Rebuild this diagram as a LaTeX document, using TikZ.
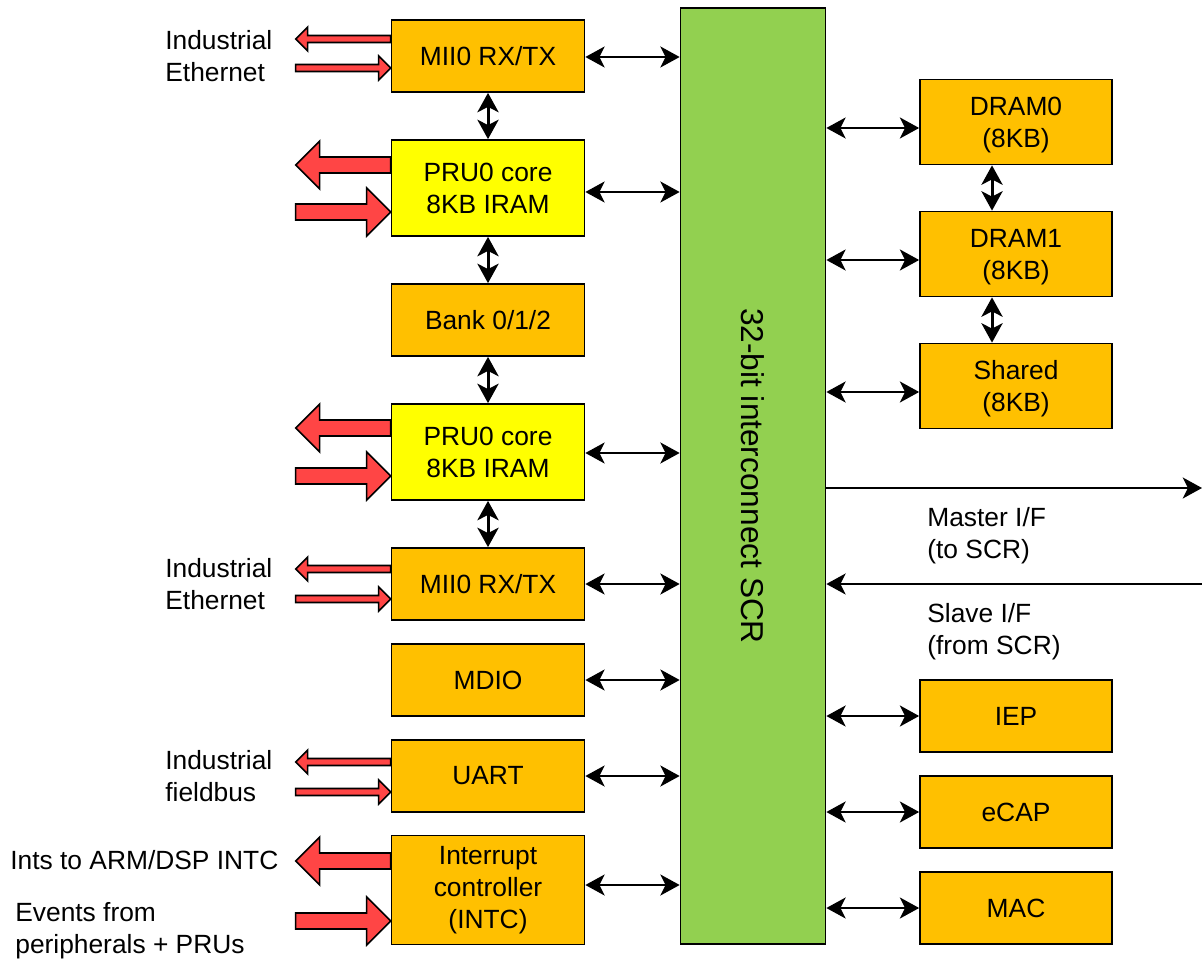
\documentclass[tikz,border=0pt]{standalone}
\usepackage{fontspec}
\setmainfont{Liberation Sans}
\usetikzlibrary{calc, arrows.meta}
\definecolor{blkorange}{HTML}{FFC000}
\definecolor{coreyellow}{HTML}{FFFF00}
\definecolor{busgreen}{HTML}{92D050}
\definecolor{arrred}{HTML}{FF4545}
\newcommand{\redout}[4]{\draw[redarr] ($(#1.west)+(0,#2)$) -- ++(0,-#3) -- ++(-95+#4,0) -- ++(0,-#4+#3) -- ++(-#4,#4) -- ++(#4,#4) -- ++(0,-#4+#3) -- ++(95-#4,0) -- cycle;}
\newcommand{\redin}[4]{\draw[redarr] ($(#1.west)+(0,#2)$) -- ++(-#4,-#4) -- ++(0,#4-#3) -- ++(-95+#4,0) -- ++(0,2*#3) -- ++(95-#4,0) -- ++(0,#4-#3) -- cycle;}
\begin{document}
\begin{tikzpicture}[x=0.02cm, y=-0.02cm, font=\fontsize{15}{18.2}\selectfont,
  blk/.style={draw, line width=1pt, fill=blkorange, align=center,
    minimum width=3.86cm, minimum height=1.44cm, inner sep=0pt},
  core/.style={blk, fill=coreyellow, minimum height=1.92cm},
  mem/.style={blk, minimum width=3.84cm, minimum height=1.7cm},
  link/.style={<->, line width=1.1pt},
  vlink/.style={<->, line width=1.7pt},
  redarr/.style={draw, fill=arrred, line width=0.9pt, line join=miter},
  lbl/.style={anchor=west, align=left, inner sep=0pt},
  >={Stealth[length=11pt,width=12pt,inset=3pt]}]

  \useasboundingbox (0,0) rectangle (1202,962);

  \node[blk] (mii0a) at (488,56) {MII0 RX/TX};
  \node[core] (pru0a) at (488,188) {PRU0 core\\8KB IRAM};
  \node[blk] (bank) at (488,320) {Bank 0/1/2};
  \node[core] (pru0b) at (488,452) {PRU0 core\\8KB IRAM};
  \node[blk] (mii0b) at (488,584) {MII0 RX/TX};
  \node[blk] (mdio) at (488,680) {MDIO};
  \node[blk] (uart) at (488,776) {UART};
  \node[blk, minimum height=2.18cm] (intc) at (488,890) {Interrupt\\controller\\(INTC)};

  \node[draw, line width=1pt, fill=busgreen, minimum width=2.9cm, minimum height=18.72cm] (bus) at (753,476) {};
  \node[rotate=-90, font=\fontsize{18}{22}\selectfont] (buslbl) at (753,476) {32-bit interconnect SCR};

  \node[mem, text depth=-2pt] (dram0) at (1016,122) {DRAM0\\(8KB)};
  \node[mem, text depth=-2pt] (dram1) at (1016,254) {DRAM1\\(8KB)};
  \node[mem, text depth=-2pt] (shared) at (1016,386) {Shared\\(8KB)};
  \node[blk, minimum width=3.84cm] (iep) at (1016,716) {IEP};
  \node[blk, minimum width=3.84cm] (ecap) at (1016,812) {eCAP};
  \node[blk, minimum width=3.84cm] (mac) at (1016,908) {MAC};

  \node[lbl] (eth0) at (165,56) {Industrial\\Ethernet};
  \node[lbl] (eth1) at (165,584) {Industrial\\Ethernet};
  \node[lbl] (fbus) at (165,776) {Industrial\\fieldbus};
  \node[lbl] (ints) at (10,860) {Ints to ARM/DSP INTC};
  \node[lbl] (evts) at (15,931) {Events from\\peripherals + PRUs};
  \node[lbl] (mstr) at (927,536) {Master I/F\\(to SCR)};
  \node[lbl] (slv) at (927,632) {Slave I/F\\(from SCR)};

  \redout{mii0a}{-17}{3.5}{12}
  \redin{mii0a}{12}{3.5}{12}
  \redout{pru0a}{-23}{8}{24}
  \redin{pru0a}{24}{8}{24}
  \redout{pru0b}{-24}{8}{24}
  \redin{pru0b}{24}{8}{24}
  \redout{mii0b}{-15}{3.5}{12}
  \redin{mii0b}{15}{3.5}{12}
  \redout{uart}{-14}{3.5}{12}
  \redin{uart}{16}{3.5}{12}
  \redout{intc}{-29}{8}{24}
  \redin{intc}{31}{8}{24}

  \draw[vlink] (mii0a.south) -- (pru0a.north);
  \draw[vlink] (pru0a.south) -- (bank.north);
  \draw[vlink] (bank.south) -- (pru0b.north);
  \draw[vlink] (pru0b.south) -- (mii0b.north);
  \draw[vlink] ($(dram0.south)+(-24,0)$) -- ($(dram1.north)+(-24,0)$);
  \draw[vlink] ($(dram1.south)+(-24,0)$) -- ($(shared.north)+(-24,0)$);

  \draw[link] ($(mii0a.east)+(0,1)$) -- ($(mii0a.east -| bus.west)+(0,1)$);
  \draw[link] ($(pru0a.east)+(0,4)$) -- ($(pru0a.east -| bus.west)+(0,4)$);
  \draw[link] ($(pru0b.east)+(0,1)$) -- ($(pru0b.east -| bus.west)+(0,1)$);
  \draw[link] (mii0b.east) -- (mii0b.east -| bus.west);
  \draw[link] (mdio.east) -- (mdio.east -| bus.west);
  \draw[link] (uart.east) -- (uart.east -| bus.west);
  \draw[link] ($(intc.east)+(0,-5)$) -- ($(intc.east -| bus.west)+(0,-5)$);

  \draw[link] ($(dram0.west -| bus.east)+(0,6)$) -- ($(dram0.west)+(0,6)$);
  \draw[link] ($(dram1.west -| bus.east)+(0,6)$) -- ($(dram1.west)+(0,6)$);
  \draw[link] ($(shared.west -| bus.east)+(0,6)$) -- ($(shared.west)+(0,6)$);
  \draw[link] (iep.west -| bus.east) -- (iep.west);
  \draw[link] (ecap.west -| bus.east) -- (ecap.west);
  \draw[link] (mac.west -| bus.east) -- (mac.west);

  \coordinate (mout) at (1202,488);
  \coordinate (sin) at (1202,584);
  \draw[->, line width=1.1pt] (bus.east |- mout) -- (mout);
  \draw[->, line width=1.1pt] (sin) -- (bus.east |- sin);
\end{tikzpicture}
\end{document}
